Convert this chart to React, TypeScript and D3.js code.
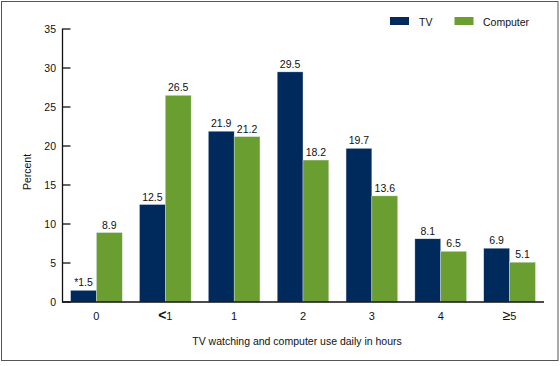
import React from "react";
import * as d3 from "d3";

const categories = ["0", "<1", "1", "2", "3", "4", "≥5"];
const tvValues = [1.5, 12.5, 21.9, 29.5, 19.7, 8.1, 6.9];
const computerValues = [8.9, 26.5, 21.2, 18.2, 13.6, 6.5, 5.1];
const tvLabels = ["*1.5", "12.5", "21.9", "29.5", "19.7", "8.1", "6.9"];
const computerLabels = ["8.9", "26.5", "21.2", "18.2", "13.6", "6.5", "5.1"];
const yTicks = [0, 5, 10, 15, 20, 25, 30, 35];
const seriesNames = ["TV", "Computer"];

const W = 560;
const H = 366;
const TV_COLOR = "#002a5c";
const PC_COLOR = "#6b9e31";
const FONT = "'Liberation Sans', Arial, sans-serif";
const FS = 10.5;

function CatLabel({ c }: { c: string }) {
  const first = c.charAt(0);
  if (first === "<" || first === "≥") {
    return (
      <>
        <tspan fontSize={14} fontWeight={first === "<" ? "bold" : "normal"}>{first}</tspan>
        <tspan>{c.slice(1)}</tspan>
      </>
    );
  }
  return <>{c}</>;
}

export default function App() {
  const x = d3.scaleBand<string>().domain(categories).range([62, 544]).paddingInner(0.25).paddingOuter(0.125);
  const sub = d3.scaleBand<string>().domain(seriesNames).range([0, x.bandwidth()]);
  const y = d3.scaleLinear().domain([0, 35]).range([302, 29]);

  const series = [
    { name: "TV", values: tvValues, labels: tvLabels, color: TV_COLOR },
    { name: "Computer", values: computerValues, labels: computerLabels, color: PC_COLOR },
  ];

  return (
    <svg width={W} height={H} style={{ position: "absolute", left: 0, top: 0 }} fontFamily={FONT}>
      <rect x={0} y={0} width={W} height={H} fill="#fff" />
      <rect x={1.5} y={1.5} width={556.5} height={359} fill="none" stroke="#555" strokeWidth={1} />
      {series.map((s) =>
        categories.map((c, i) => {
          const bx = (x(c) ?? 0) + (sub(s.name) ?? 0);
          const by = y(s.values[i]);
          return (
            <g key={s.name + c}>
              <rect x={bx} y={by} width={sub.bandwidth()} height={y(0) - by} fill={s.color} stroke="#dfe6ee" strokeWidth={0.4} />
              <text x={bx + sub.bandwidth() / 2} y={by - 4} textAnchor="middle" fontSize={FS} fill="#111">
                {s.labels[i]}
              </text>
            </g>
          );
        })
      )}
      {/* y axis */}
      <line x1={62.5} x2={62.5} y1={y(35)} y2={y(0)} stroke="#111" strokeWidth={1.3} />
      {yTicks.map((t) => (
        <g key={t}>
          <line x1={62} x2={70.5} y1={y(t)} y2={y(t)} stroke="#111" strokeWidth={1.3} />
          <text x={56} y={y(t) + 4} textAnchor="end" fontSize={FS} fill="#111">
            {t}
          </text>
        </g>
      ))}
      {/* x axis */}
      <line x1={62} x2={544} y1={y(0)} y2={y(0)} stroke="#111" strokeWidth={1.3} />
      {categories.map((c) => (
        <text key={c} x={(x(c) ?? 0) + x.bandwidth() / 2} y={320} textAnchor="middle" fontSize={FS + 0.5} fill="#111">
          <CatLabel c={c} />
        </text>
      ))}
      <text x={297} y={345} textAnchor="middle" fontSize={FS} fill="#111">
        TV watching and computer use daily in hours
      </text>
      <text transform={`translate(31,172) rotate(-90)`} textAnchor="middle" fontSize={FS} fill="#111">
        Percent
      </text>
      {/* legend */}
      <rect x={390} y={17} width={19} height={8} fill={TV_COLOR} />
      <text x={419} y={25.5} fontSize={FS} fill="#111">TV</text>
      <rect x={454.5} y={17} width={19} height={8} fill={PC_COLOR} />
      <text x={483} y={25.5} fontSize={FS} fill="#111">Computer</text>
    </svg>
  );
}
